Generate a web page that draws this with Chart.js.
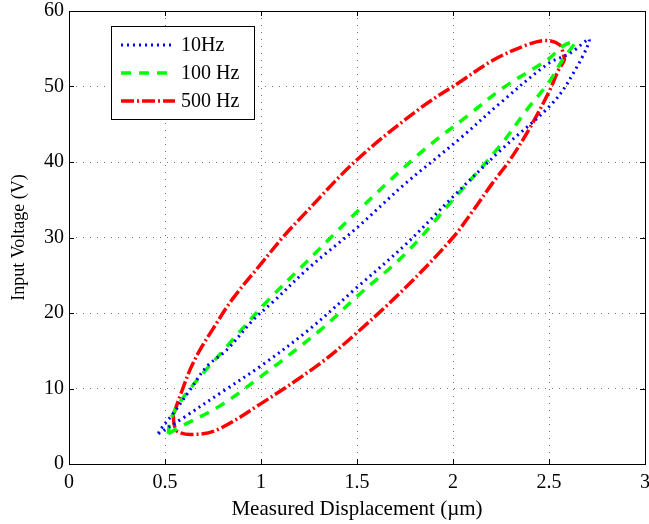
<!DOCTYPE html>
<html>
<head>
<meta charset="utf-8">
<script src="https://cdn.jsdelivr.net/npm/chart.js@4.4.1/dist/chart.umd.min.js"></script>
<style>
  html, body { margin: 0; padding: 0; background: #ffffff; }
  #wrap { width: 649px; height: 524px; }
</style>
</head>
<body>
<div id="wrap"><canvas id="c" width="649" height="524"></canvas></div>
<script>
// ---- data (x: displacement in µm, y: voltage in V) ----
const seriesNames = ['10Hz', '100 Hz', '500 Hz'];

// 10 Hz loop: lower branch (rising) then upper branch (returning)
const hz10X = [0.465, 0.60, 0.80, 1.00, 1.25, 1.50, 1.75, 2.00, 2.25, 2.50, 2.60, 2.71,
               2.61, 2.50, 2.25, 2.036, 1.75, 1.50, 1.25, 1.064, 0.96, 0.821, 0.717, 0.63, 0.543, 0.474, 0.465];
const hz10Y = [4.0, 6.2, 9.6, 13.0, 17.8, 23.4, 29.0, 35.4, 41.6, 47.3, 50.6, 56.2,
               54.4, 53.1, 47.9, 43.1, 37.1, 31.3, 26.0, 21.5, 19.1, 15.1, 12.9, 9.8, 6.7, 4.5, 4.0];

// 100 Hz loop
const hz100X = [0.517, 0.578, 0.786, 1.00, 1.307, 1.50, 1.75, 2.00, 2.25, 2.384, 2.50, 2.57, 2.635,
                2.57, 2.50, 2.26, 2.09, 1.83, 1.50, 1.203, 1.03, 0.83, 0.613, 0.53, 0.517];
const hz100Y = [4.0, 4.9, 7.7, 11.6, 17.7, 22.2, 27.8, 35.0, 42.3, 46.9, 50.6, 53.5, 55.9,
                55.3, 53.7, 49.8, 46.4, 41.2, 33.4, 25.9, 21.5, 15.8, 9.4, 6.0, 4.0];

// 500 Hz loop
const hz500X = [0.543, 0.548, 0.565, 0.640, 0.769, 1.00, 1.307, 1.50, 1.75, 2.00, 2.10, 2.20, 2.30, 2.40, 2.50, 2.55, 2.58,
                2.575, 2.557, 2.488, 2.384, 2.21, 2.036, 1.828, 1.50, 1.203, 1.116, 1.00, 0.85, 0.75, 0.691, 0.634, 0.587, 0.543];
const hz500Y = [6.5, 5.2, 4.3, 3.9, 4.5, 8.0, 13.3, 17.4, 23.3, 30.0, 33.4, 37.0, 40.4, 44.5, 49.3, 52.2, 53.5,
                54.2, 55.5, 56.1, 55.5, 53.5, 50.6, 47.1, 40.3, 32.5, 30.1, 26.5, 21.8, 17.9, 15.5, 12.7, 9.6, 6.5];

const xTickValues = [0, 0.5, 1, 1.5, 2, 2.5, 3];
const yTickValues = [0, 10, 20, 30, 40, 50, 60];
const xTitle = 'Measured Displacement (\u00b5m)';
const yTitle = 'Input Voltage (V)';

function pts(xs, ys) { return xs.map((x, i) => ({ x: x, y: ys[i] })); }

const FONT = '"Liberation Serif", "Times New Roman", serif';

const datasets = [
  { label: seriesNames[0], data: pts(hz10X, hz10Y), borderColor: '#0000ff', borderWidth: 3, borderDash: [2, 4], borderCapStyle: 'butt' },
  { label: seriesNames[1], data: pts(hz100X, hz100Y), borderColor: '#00ff00', borderWidth: 3.5, borderDash: [10, 8], borderCapStyle: 'butt' },
  { label: seriesNames[2], data: pts(hz500X, hz500Y), borderColor: '#ff0000', borderWidth: 3.5, borderDash: [13, 3, 2, 3], borderCapStyle: 'butt' }
].map(d => Object.assign(d, { showLine: true, pointRadius: 0, tension: 0.35, fill: false }));

const framePlugin = {
  id: 'frame',
  afterDraw(chart) {
    const ctx = chart.ctx, a = chart.chartArea;
    const xs = chart.scales.x, ys = chart.scales.y;
    ctx.save();
    ctx.strokeStyle = '#000';
    ctx.lineWidth = 1;
    ctx.setLineDash([]);
    ctx.strokeRect(Math.round(a.left) + 0.5, Math.round(a.top) + 0.5, Math.round(a.right - a.left), Math.round(a.bottom - a.top));
    const L = 5;
    ctx.beginPath();
    xTickValues.forEach(v => {
      const px = Math.round(xs.getPixelForValue(v)) + 0.5;
      ctx.moveTo(px, a.bottom); ctx.lineTo(px, a.bottom - L);
      ctx.moveTo(px, a.top); ctx.lineTo(px, a.top + L);
    });
    yTickValues.forEach(v => {
      const py = Math.round(ys.getPixelForValue(v)) + 0.5;
      ctx.moveTo(a.left, py); ctx.lineTo(a.left + L, py);
      ctx.moveTo(a.right, py); ctx.lineTo(a.right - L, py);
    });
    ctx.stroke();

    // legend box
    const bx = 111, by = 26, bw = 143, bh = 93;
    ctx.fillStyle = '#fff';
    ctx.fillRect(bx, by, bw, bh);
    ctx.strokeRect(bx + 0.5, by + 0.5, bw, bh);
    const rows = [45, 73, 101];
    chart.data.datasets.forEach((d, i) => {
      ctx.save();
      ctx.strokeStyle = d.borderColor;
      ctx.lineWidth = d.borderWidth;
      ctx.setLineDash(d.borderDash);
      ctx.beginPath();
      ctx.moveTo(121, rows[i]);
      ctx.lineTo(175, rows[i]);
      ctx.stroke();
      ctx.restore();
      ctx.fillStyle = '#000';
      ctx.font = '20px ' + FONT;
      ctx.textBaseline = 'middle';
      ctx.textAlign = 'left';
      ctx.fillText(d.label, 181, rows[i] + 1);
    });
    ctx.restore();
  }
};

new Chart(document.getElementById('c'), {
  type: 'scatter',
  data: { datasets: datasets },
  options: {
    responsive: false,
    animation: false,
    devicePixelRatio: 1,
    layout: { padding: { top: 11, right: 4, left: 0, bottom: 0 } },
    plugins: { legend: { display: false }, tooltip: { enabled: false } },
    scales: {
      x: {
        type: 'linear', min: 0, max: 3,
        afterBuildTicks(s) { s.ticks = xTickValues.map(v => ({ value: v })); },
        afterFit(s) { s.height = 60; s.paddingLeft = 0; s.paddingRight = 0; },
        ticks: { color: '#000', font: { family: FONT, size: 20 }, padding: 7, maxRotation: 0,
                 callback: v => String(v) },
        grid: { color: 'rgba(0,0,0,0.55)', lineWidth: 1, drawTicks: false },
        border: { display: false, dash: [1, 6] },
        title: { display: true, text: xTitle, color: '#000', font: { family: FONT, size: 21 }, padding: { top: 0, bottom: 2 } }
      },
      y: {
        type: 'linear', min: 0, max: 60,
        afterBuildTicks(s) { s.ticks = yTickValues.map(v => ({ value: v })); },
        afterFit(s) { s.width = 69; s.paddingTop = 0; s.paddingBottom = 0; },
        ticks: { color: '#000', font: { family: FONT, size: 20 }, padding: 5, callback: v => String(v) },
        grid: { color: 'rgba(0,0,0,0.55)', lineWidth: 1, drawTicks: false },
        border: { display: false, dash: [1, 6] },
        title: { display: true, text: yTitle, color: '#000', font: { family: FONT, size: 18 }, padding: { top: 8, bottom: 0 } }
      }
    }
  },
  plugins: [framePlugin]
});
</script>
</body>
</html>
